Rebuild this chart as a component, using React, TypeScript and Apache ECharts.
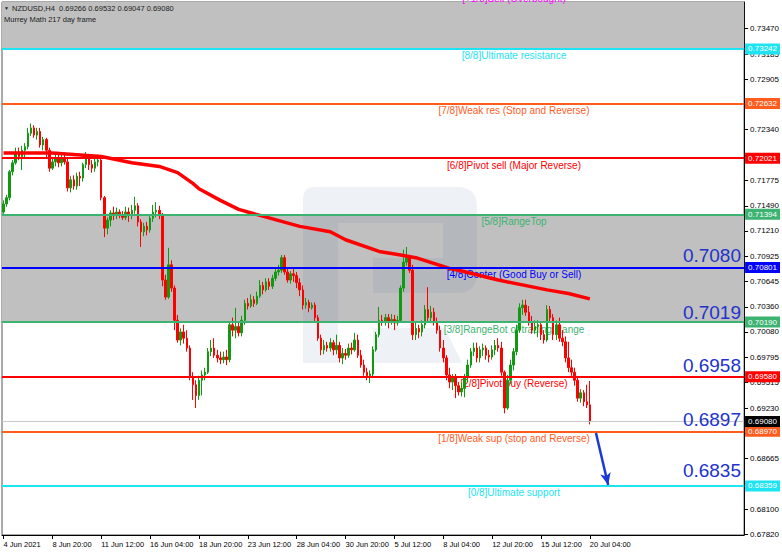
import React, { useEffect, useRef } from "react";
import * as echarts from "echarts";

const FONT = "'Liberation Sans', Arial, sans-serif";

// ---- x axis tick labels (every 16 H4 bars) ----
const xTickLabels = [
  "4 Jun 2021", "8 Jun 20:00", "11 Jun 12:00", "16 Jun 04:00", "18 Jun 20:00",
  "23 Jun 12:00", "28 Jun 04:00", "30 Jun 20:00", "5 Jul 12:00", "8 Jul 04:00",
  "12 Jul 20:00", "15 Jul 12:00", "20 Jul 04:00",
];
const barsPerLabel = 16;
const totalSlots = 243; // bars plus empty space on the right

// ---- y axis tick labels ----
const yTickValues = [
  0.67820, 0.68100, 0.68385, 0.68665, 0.68950, 0.69230, 0.69515, 0.69795, 0.70080, 0.70360,
  0.70645, 0.70925, 0.71210, 0.71490, 0.71775, 0.72055, 0.72340, 0.72620, 0.72905, 0.73185, 0.73470,
];
const yMin = 0.67811;
const yMax = 0.73767;

// ---- NZDUSD H4 candles ----
const opens = [
  0.7142, 0.7151, 0.7158, 0.7187, 0.7197, 0.7209, 0.7204, 0.7211, 0.7215, 0.7230,
  0.7236, 0.7228, 0.7232, 0.7217, 0.7223, 0.7211, 0.7191, 0.7198, 0.7202, 0.7197,
  0.7202, 0.7198, 0.7169, 0.7178, 0.7171, 0.7182, 0.7180, 0.7195, 0.7202, 0.7195,
  0.7191, 0.7198, 0.7200, 0.7158, 0.7124, 0.7133, 0.7141, 0.7138, 0.7142, 0.7139,
  0.7136, 0.7142, 0.7138, 0.7144, 0.7149, 0.7131, 0.7120, 0.7126, 0.7122, 0.7135,
  0.7142, 0.7144, 0.7138, 0.7066, 0.7047, 0.7083, 0.7057, 0.7021, 0.6999, 0.7008,
  0.7001, 0.6990, 0.6958, 0.6949, 0.6937, 0.6954, 0.6960, 0.6963, 0.6986, 0.6990,
  0.6982, 0.6979, 0.6977, 0.6980, 0.6977, 0.7016, 0.7010, 0.7014, 0.7007, 0.7021,
  0.7040, 0.7037, 0.7044, 0.7040, 0.7048, 0.7060, 0.7055, 0.7064, 0.7059, 0.7068,
  0.7075, 0.7077, 0.7091, 0.7075, 0.7066, 0.7073, 0.7071, 0.7063, 0.7055, 0.7038,
  0.7041, 0.7035, 0.7038, 0.7024, 0.7001, 0.6988, 0.6993, 0.6990, 0.6996, 0.6988,
  0.6993, 0.6979, 0.6984, 0.6982, 0.6990, 0.6988, 0.6999, 0.6982, 0.6971, 0.6963,
  0.6959, 0.6961, 0.6988, 0.7005, 0.7021, 0.7019, 0.7024, 0.7019, 0.7022, 0.7018,
  0.7021, 0.7057, 0.7086, 0.7091, 0.7077, 0.7005, 0.7012, 0.7008, 0.7016, 0.7033,
  0.7024, 0.7030, 0.7019, 0.7010, 0.6990, 0.6979, 0.6960, 0.6952, 0.6957, 0.6948,
  0.6941, 0.6945, 0.6957, 0.6971, 0.6986, 0.6990, 0.6979, 0.6988, 0.6990, 0.6982,
  0.6980, 0.6988, 0.6993, 0.6990, 0.6963, 0.6923, 0.6954, 0.6971, 0.6986, 0.7010,
  0.7035, 0.7038, 0.7030, 0.7019, 0.7010, 0.7014, 0.7016, 0.7005, 0.6999, 0.7033,
  0.7024, 0.7005, 0.7016, 0.7001, 0.6997, 0.6979, 0.6968, 0.6963, 0.6954, 0.6934,
  0.6940, 0.6930, 0.69266,
];
const closes = [
  0.7151, 0.7158, 0.7187, 0.7197, 0.7209, 0.7204, 0.7211, 0.7215, 0.7230, 0.7236,
  0.7228, 0.7232, 0.7217, 0.7223, 0.7211, 0.7191, 0.7198, 0.7202, 0.7197, 0.7202,
  0.7198, 0.7169, 0.7178, 0.7171, 0.7182, 0.7180, 0.7195, 0.7202, 0.7195, 0.7191,
  0.7198, 0.7200, 0.7158, 0.7124, 0.7133, 0.7141, 0.7138, 0.7142, 0.7139, 0.7136,
  0.7142, 0.7138, 0.7144, 0.7149, 0.7131, 0.7120, 0.7126, 0.7122, 0.7135, 0.7142,
  0.7144, 0.7138, 0.7066, 0.7047, 0.7083, 0.7057, 0.7021, 0.6999, 0.7008, 0.7001,
  0.6990, 0.6958, 0.6949, 0.6937, 0.6954, 0.6960, 0.6963, 0.6986, 0.6990, 0.6982,
  0.6979, 0.6977, 0.6980, 0.6977, 0.7016, 0.7010, 0.7014, 0.7007, 0.7021, 0.7040,
  0.7037, 0.7044, 0.7040, 0.7048, 0.7060, 0.7055, 0.7064, 0.7059, 0.7068, 0.7075,
  0.7077, 0.7091, 0.7075, 0.7066, 0.7073, 0.7071, 0.7063, 0.7055, 0.7038, 0.7041,
  0.7035, 0.7038, 0.7024, 0.7001, 0.6988, 0.6993, 0.6990, 0.6996, 0.6988, 0.6993,
  0.6979, 0.6984, 0.6982, 0.6990, 0.6988, 0.6999, 0.6982, 0.6971, 0.6963, 0.6959,
  0.6961, 0.6988, 0.7005, 0.7021, 0.7019, 0.7024, 0.7019, 0.7022, 0.7018, 0.7021,
  0.7057, 0.7086, 0.7091, 0.7077, 0.7005, 0.7012, 0.7008, 0.7016, 0.7033, 0.7024,
  0.7030, 0.7019, 0.7010, 0.6990, 0.6979, 0.6960, 0.6952, 0.6957, 0.6948, 0.6941,
  0.6945, 0.6957, 0.6971, 0.6986, 0.6990, 0.6979, 0.6988, 0.6990, 0.6982, 0.6980,
  0.6988, 0.6993, 0.6990, 0.6963, 0.6923, 0.6954, 0.6971, 0.6986, 0.7010, 0.7035,
  0.7038, 0.7030, 0.7019, 0.7010, 0.7014, 0.7016, 0.7005, 0.6999, 0.7033, 0.7024,
  0.7005, 0.7016, 0.7001, 0.6997, 0.6979, 0.6968, 0.6963, 0.6954, 0.6934, 0.6940,
  0.6930, 0.69266, 0.69080,
];
const highs = [
  0.7155, 0.7161, 0.7189, 0.7200, 0.7214, 0.7214, 0.7216, 0.7219, 0.7236, 0.7241,
  0.7239, 0.7236, 0.7236, 0.7226, 0.7225, 0.7214, 0.7202, 0.7207, 0.7206, 0.7208,
  0.7206, 0.7202, 0.7182, 0.7183, 0.7186, 0.7187, 0.7197, 0.7209, 0.7206, 0.7200,
  0.7202, 0.7206, 0.7203, 0.7160, 0.7136, 0.7144, 0.7148, 0.7147, 0.7145, 0.7143,
  0.7148, 0.7147, 0.7150, 0.7159, 0.7152, 0.7134, 0.7130, 0.7131, 0.7139, 0.7150,
  0.7153, 0.7149, 0.7141, 0.7072, 0.7102, 0.7088, 0.7060, 0.7027, 0.7012, 0.7016,
  0.7010, 0.6993, 0.6963, 0.6954, 0.6959, 0.6965, 0.6968, 0.6990, 0.6999, 0.7001,
  0.6988, 0.6986, 0.6986, 0.6988, 0.7019, 0.7024, 0.7035, 0.7019, 0.7026, 0.7044,
  0.7046, 0.7050, 0.7048, 0.7053, 0.7066, 0.7064, 0.7068, 0.7068, 0.7072, 0.7079,
  0.7083, 0.7094, 0.7094, 0.7079, 0.7076, 0.7079, 0.7075, 0.7068, 0.7060, 0.7046,
  0.7044, 0.7041, 0.7041, 0.7027, 0.7005, 0.6999, 0.6997, 0.7001, 0.6999, 0.7005,
  0.6997, 0.6990, 0.6989, 0.6995, 0.6996, 0.7007, 0.7005, 0.6988, 0.6977, 0.6968,
  0.6965, 0.6992, 0.7008, 0.7036, 0.7027, 0.7028, 0.7028, 0.7028, 0.7027, 0.7026,
  0.7060, 0.7100, 0.7103, 0.7094, 0.7083, 0.7019, 0.7016, 0.7021, 0.7038, 0.7058,
  0.7037, 0.7035, 0.7024, 0.7015, 0.6999, 0.6982, 0.6968, 0.6961, 0.6961, 0.6952,
  0.6951, 0.6961, 0.6977, 0.6990, 0.6996, 0.6996, 0.6992, 0.6995, 0.6993, 0.6988,
  0.6993, 0.6999, 0.7001, 0.6997, 0.6965, 0.6960, 0.6977, 0.6990, 0.7016, 0.7040,
  0.7044, 0.7044, 0.7037, 0.7026, 0.7021, 0.7021, 0.7019, 0.7010, 0.7038, 0.7037,
  0.7028, 0.7021, 0.7024, 0.7010, 0.7003, 0.6997, 0.6977, 0.6968, 0.6959, 0.6944,
  0.6943, 0.6949, 0.69532,
];
const lows = [
  0.7140, 0.7148, 0.7155, 0.7183, 0.7195, 0.7200, 0.7189, 0.7202, 0.7212, 0.7227,
  0.7225, 0.7223, 0.7214, 0.7211, 0.7202, 0.7187, 0.7189, 0.7193, 0.7192, 0.7193,
  0.7195, 0.7165, 0.7164, 0.7167, 0.7167, 0.7171, 0.7176, 0.7191, 0.7189, 0.7186,
  0.7187, 0.7193, 0.7155, 0.7114, 0.7117, 0.7126, 0.7133, 0.7134, 0.7135, 0.7133,
  0.7133, 0.7131, 0.7134, 0.7140, 0.7126, 0.7103, 0.7115, 0.7116, 0.7119, 0.7131,
  0.7136, 0.7134, 0.7059, 0.7044, 0.7045, 0.7053, 0.7010, 0.6996, 0.6993, 0.6995,
  0.6986, 0.6954, 0.6932, 0.6923, 0.6932, 0.6937, 0.6954, 0.6961, 0.6981, 0.6979,
  0.6974, 0.6972, 0.6973, 0.6971, 0.6974, 0.7003, 0.7001, 0.7003, 0.7003, 0.7016,
  0.7033, 0.7035, 0.7036, 0.7038, 0.7046, 0.7050, 0.7053, 0.7055, 0.7056, 0.7065,
  0.7071, 0.7074, 0.7072, 0.7063, 0.7062, 0.7064, 0.7057, 0.7048, 0.7033, 0.7034,
  0.7030, 0.7033, 0.7019, 0.6998, 0.6982, 0.6983, 0.6986, 0.6986, 0.6982, 0.6983,
  0.6974, 0.6972, 0.6977, 0.6979, 0.6983, 0.6986, 0.6979, 0.6968, 0.6959, 0.6954,
  0.6951, 0.6957, 0.6986, 0.7002, 0.7015, 0.7015, 0.7012, 0.7016, 0.7010, 0.7015,
  0.7019, 0.7053, 0.7082, 0.7074, 0.6999, 0.6999, 0.7001, 0.7003, 0.7012, 0.7019,
  0.7019, 0.7015, 0.7006, 0.6986, 0.6974, 0.6954, 0.6945, 0.6943, 0.6934, 0.6937,
  0.6936, 0.6935, 0.6952, 0.6968, 0.6981, 0.6974, 0.6974, 0.6981, 0.6977, 0.6974,
  0.6977, 0.6982, 0.6986, 0.6959, 0.6917, 0.6921, 0.6950, 0.6965, 0.6982, 0.7007,
  0.7027, 0.7026, 0.7015, 0.7006, 0.7006, 0.7002, 0.6999, 0.6995, 0.6997, 0.7019,
  0.6999, 0.6999, 0.6997, 0.6992, 0.6974, 0.6963, 0.6959, 0.6948, 0.6930, 0.6929,
  0.6925, 0.6923, 0.69047,
];

// ---- moving average (thick red line), [bar index, price] ----
const maPoints: [number, number][] = [
  [0, 0.7208], [16, 0.7208], [32, 0.7204], [42, 0.7197], [51, 0.7193], [57, 0.7186],
  [62, 0.7174], [64, 0.7168], [71, 0.7155], [77, 0.7145], [80, 0.7142], [97, 0.7126],
  [107, 0.7120], [112, 0.7111], [123, 0.7098], [130, 0.7094], [135, 0.7091], [146, 0.7079],
  [149, 0.7077], [162, 0.7066], [178, 0.7055], [185, 0.7051], [192, 0.7045],
];

// ---- Murrey Math levels ----
const levelNames = [
  "[0/8]Ultimate support", "[1/8]Weak sup (stop and Reverse)", "[2/8]Pivot buy (Reverse)",
  "[3/8]RangeBot of trading Range", "[4/8]Center (Good Buy or Sell)", "[5/8]RangeTop",
  "[6/8]Pivot sell (Major Reverse)", "[7/8]Weak res (Stop and Reverse)", "[8/8]Ultimate resistance",
  "[+1/8]Sell (Overbought)",
];
const levelValues = [0.68359, 0.68970, 0.69580, 0.70190, 0.70801, 0.71394, 0.72021, 0.72632, 0.73242, 0.73853];
const levelColors = ["#1ee3f2", "#ff5c1e", "#ff0000", "#3cb371", "#0000ff", "#3cb371", "#ff0000", "#ff5c1e", "#1ee3f2", "#ff00ff"];
const levelTextShift = [2, 2, 2, 2, 2, 2, 2, 2, 2, -1];

const currentPrice = 0.69080;
const headerLine1 = "NZDUSD,H4  0.69266 0.69532 0.69047 0.69080";
const headerLine2 = "Murrey Math 217 day frame";

// big target labels (text, level index)
const targetTexts = ["0.7080", "0.7019", "0.6958", "0.6897", "0.6835"];
const targetLevelIdx = [4, 3, 2, 1, 0];
const targetShift = [-12, -10, -11, -12, -15];

// arrow annotation [bar index, price]
const arrowFrom: [number, number] = [194, 0.68951];
const arrowTo: [number, number] = [198, 0.68370];

let logoRegistered = false;
function registerLogo() {
  if (logoRegistered) return;
  const d =
    "M303 199 Q303 187 315 187 L457 187 Q477 187 477 207 L477 273 Q477 293 457 293 L373 293 L373 258 L443 258 L443 223 L338 223 L338 363 L303 363 Z " +
    "M373 328 L445 328 L462 363 L373 363 Z";
  echarts.graphic.registerShape("rlogo", echarts.graphic.extendPath(d, {}) as any);
  logoRegistered = true;
}

export default function App() {
  const ref = useRef<HTMLDivElement>(null);

  useEffect(() => {
    const el = ref.current;
    if (!el) return;
    document.body.style.margin = "0";
    registerLogo();
    const chart = echarts.init(el, undefined, { renderer: "svg" });

    const categories = Array.from({ length: totalSlots }, (_, i) =>
      i % barsPerLabel === 0 && i / barsPerLabel < xTickLabels.length ? xTickLabels[i / barsPerLabel] : ""
    );
    const showTick = (i: number) => categories[i] !== "";
    const candles = opens.map((o, i) => [o, closes[i], lows[i], highs[i]]);

    const levelLines: any[] = [];
    for (let k = 0; k < 9; k++) {
      levelLines.push({
        yAxis: levelValues[k],
        lineStyle: { color: levelColors[k], width: 2, type: "solid" },
        label: {
          show: true,
          position: "end",
          distance: 1,
          formatter: levelValues[k].toFixed(5),
          backgroundColor: levelColors[k],
          color: "#ffffff",
          fontSize: 8,
          fontFamily: FONT,
          padding: [2, 3, 1, 3],
        },
      });
    }
    levelLines.push({
      yAxis: currentPrice,
      lineStyle: { color: "#c8c8c8", width: 1, type: "solid" },
      label: {
        show: true,
        position: "end",
        distance: 1,
        formatter: currentPrice.toFixed(5),
        backgroundColor: "#000000",
        color: "#ffffff",
        fontSize: 8,
        fontFamily: FONT,
        padding: [2, 3, 1, 3],
      },
    });
    levelLines.push([
      { coord: arrowFrom, symbol: "none" },
      {
        coord: arrowTo,
        symbol: "arrow",
        symbolSize: [8, 12],
        lineStyle: { color: "#1a3ad8", width: 2.5, type: "solid" },
        label: { show: false },
      },
    ]);

    const option: any = {
      animation: false,
      backgroundColor: "#ffffff",
      grid: {
        left: 2, right: 37, top: 2, bottom: 17,
        show: true, backgroundColor: "#ffffff", borderColor: "#555", borderWidth: 1,
        containLabel: false,
      },
      xAxis: {
        type: "category",
        data: categories,
        boundaryGap: true,
        axisLine: { show: true, lineStyle: { color: "#000", width: 1 } },
        axisTick: { show: true, alignWithLabel: true, interval: showTick, length: 4, lineStyle: { color: "#000" } },
        axisLabel: {
          interval: showTick, align: "left", fontSize: 7.5, color: "#000", margin: 5,
          fontFamily: FONT, hideOverlap: false,
        },
        splitLine: { show: false },
      },
      yAxis: {
        type: "value",
        position: "right",
        min: yMin,
        max: yMax,
        splitLine: { show: false },
        axisLine: { show: true, lineStyle: { color: "#000", width: 1 } },
        axisTick: { show: true, length: 4, customValues: yTickValues, lineStyle: { color: "#000" } },
        axisLabel: {
          customValues: yTickValues,
          formatter: (v: number) => v.toFixed(5),
          fontSize: 8,
          color: "#000",
          margin: 6,
          fontFamily: FONT,
          showMinLabel: true,
          showMaxLabel: true,
        },
      },
      series: [
        {
          type: "line",
          data: [],
          z: 1,
          silent: true,
          markArea: {
            silent: true,
            z: 1,
            itemStyle: { color: "#c0c0c0" },
            data: [
              [{ yAxis: levelValues[8] }, { yAxis: yMax }],
              [{ yAxis: levelValues[5] }, { yAxis: levelValues[3] }],
            ],
          },
        },
        {
          type: "candlestick",
          data: candles,
          z: 3,
          barWidth: 2,
          silent: true,
          itemStyle: {
            color: "#129912",
            color0: "#ff0000",
            borderColor: "#129912",
            borderColor0: "#ff0000",
            borderWidth: 1,
          },
        },
        {
          type: "line",
          data: maPoints,
          z: 4,
          silent: true,
          showSymbol: false,
          symbol: "none",
          lineStyle: { color: "#ff0000", width: 3.5 },
        },
        {
          type: "line",
          data: [],
          z: 5,
          silent: true,
          markLine: {
            silent: true,
            z: 5,
            symbol: ["none", "none"],
            precision: 5,
            data: levelLines,
          },
        },
      ],
    };

    chart.setOption(option);

    const py = (v: number) => chart.convertToPixel({ yAxisIndex: 0 }, v) as number;
    const graphics: any[] = [
      {
        type: "rlogo",
        x: 0,
        y: 0,
        z: 2,
        silent: true,
        style: { fill: "rgba(70,100,160,0.09)" },
      },
    ];
    for (let k = 0; k < levelNames.length; k++) {
      graphics.push({
        type: "text",
        x: 514,
        y: py(levelValues[k]) + levelTextShift[k],
        z: 2,
        silent: true,
        style: {
          text: levelNames[k],
          fill: levelColors[k],
          font: `10px ${FONT}`,
          textAlign: "center",
          textVerticalAlign: "top",
        },
      });
    }
    for (let k = 0; k < targetTexts.length; k++) {
      graphics.push({
        type: "text",
        x: 741,
        y: py(levelValues[targetLevelIdx[k]]) + targetShift[k],
        z: 10,
        silent: true,
        style: {
          text: targetTexts[k],
          fill: "#2233cc",
          font: `19px ${FONT}`,
          textAlign: "right",
          textVerticalAlign: "middle",
        },
      });
    }
    graphics.push({
      type: "text", x: 4, y: 8, z: 10, silent: true,
      style: { text: "\u25BC", fill: "#222", font: `5px ${FONT}`, textAlign: "left", textVerticalAlign: "middle" },
    });
    graphics.push({
      type: "text", x: 12, y: 8, z: 10, silent: true,
      style: { text: headerLine1, fill: "#222", font: `7.5px ${FONT}`, textAlign: "left", textVerticalAlign: "middle" },
    });
    graphics.push({
      type: "text", x: 4, y: 19, z: 10, silent: true,
      style: { text: headerLine2, fill: "#222", font: `7.5px ${FONT}`, textAlign: "left", textVerticalAlign: "middle" },
    });

    chart.setOption({ graphic: graphics });

    return () => chart.dispose();
  }, []);

  return (
    <div
      ref={ref}
      style={{ position: "fixed", left: 0, top: 0, width: 782, height: 552, background: "#fff" }}
    />
  );
}
